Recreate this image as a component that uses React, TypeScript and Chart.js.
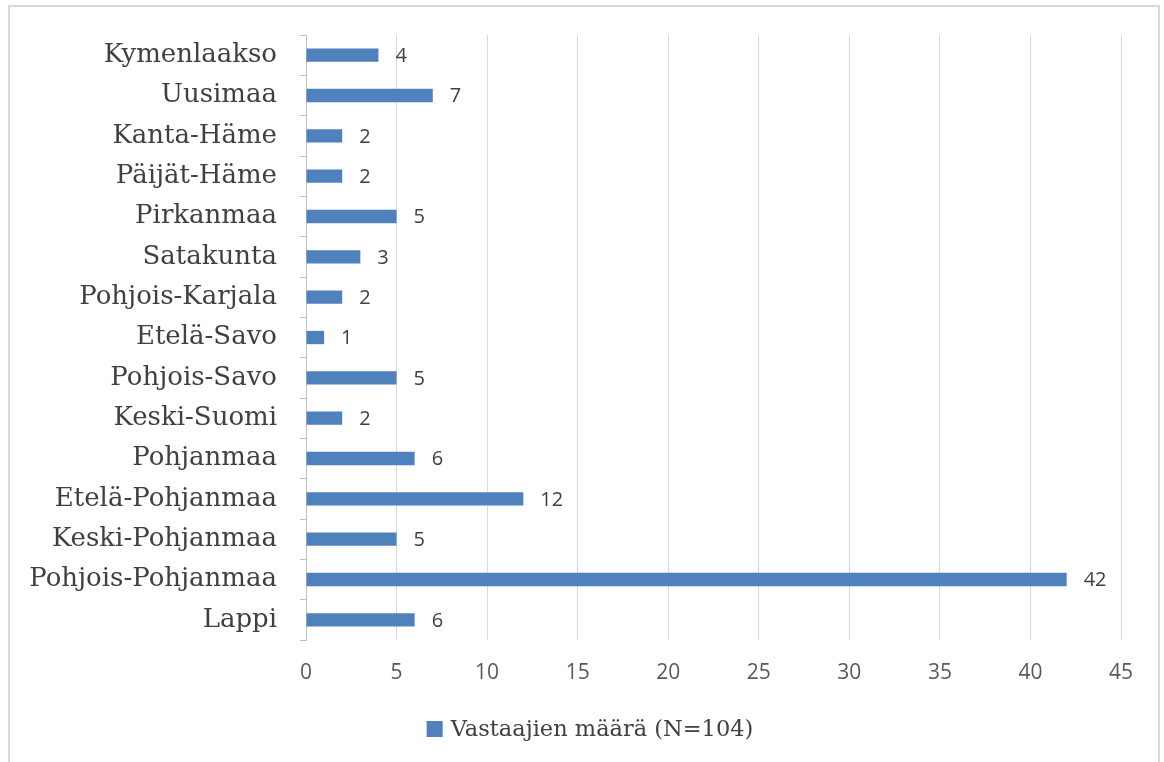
import React, { useEffect, useRef } from "react";
import { Chart, registerables } from "chart.js";

Chart.register(...registerables);

const categories = [
  "Kymenlaakso",
  "Uusimaa",
  "Kanta-Häme",
  "Päijät-Häme",
  "Pirkanmaa",
  "Satakunta",
  "Pohjois-Karjala",
  "Etelä-Savo",
  "Pohjois-Savo",
  "Keski-Suomi",
  "Pohjanmaa",
  "Etelä-Pohjanmaa",
  "Keski-Pohjanmaa",
  "Pohjois-Pohjanmaa",
  "Lappi",
];
const values = [4, 7, 2, 2, 5, 3, 2, 1, 5, 2, 6, 12, 5, 42, 6];
const seriesLabel = "Vastaajien määrä (N=104)";
const xMin = 0;
const xMax = 45;
const xStep = 5;

const SERIF = "'DejaVu Serif', 'Liberation Serif', serif";
const SANS = "'Open Sans', 'Liberation Sans', sans-serif";
const BAR_COLOR = "#4F81BD";

const dataLabelPlugin = {
  id: "dataLabels",
  afterDatasetsDraw(chart: any) {
    const { ctx } = chart;
    const meta = chart.getDatasetMeta(0);
    ctx.save();
    ctx.font = `20px ${SANS}`;
    ctx.fillStyle = "#404040";
    ctx.textAlign = "left";
    ctx.textBaseline = "middle";
    meta.data.forEach((bar: any, i: number) => {
      const v = chart.data.datasets[0].data[i];
      ctx.fillText(String(v), bar.x + 17, bar.y + 1);
    });
    ctx.restore();
  },
};

const customLegendPlugin = {
  id: "customLegend",
  afterDraw(chart: any) {
    const { ctx } = chart;
    const ds = chart.data.datasets[0];
    ctx.save();
    ctx.font = `22.5px ${SERIF}`;
    const text = ds.label;
    const tw = ctx.measureText(text).width;
    const box = 16;
    const gap = 8;
    const total = box + gap + tw;
    const cx = 590;
    const cy = 729;
    const x0 = cx - total / 2;
    ctx.fillStyle = ds.backgroundColor;
    ctx.fillRect(x0, cy - box / 2, box, box);
    ctx.fillStyle = "#404040";
    ctx.textAlign = "left";
    ctx.textBaseline = "middle";
    ctx.fillText(text, x0 + box + gap, cy + 1);
    ctx.restore();
  },
};

export default function App() {
  const ref = useRef<HTMLCanvasElement | null>(null);
  useEffect(() => {
    if (!ref.current) return;
    const chart = new Chart(ref.current, {
      type: "bar",
      data: {
        labels: categories,
        datasets: [
          {
            label: seriesLabel,
            data: values,
            backgroundColor: BAR_COLOR,
            borderColor: BAR_COLOR,
            borderWidth: 0,
            categoryPercentage: 1,
            barPercentage: 0.33,
          },
        ],
      },
      options: {
        indexAxis: "y",
        animation: false,
        responsive: false,
        maintainAspectRatio: false,
        layout: { padding: { left: 0, right: 43, top: 35, bottom: 72 } },
        scales: {
          x: {
            min: xMin,
            max: xMax,
            ticks: {
              stepSize: xStep,
              color: "#595959",
              font: { family: SANS, size: 21 },
              padding: 20,
            },
            grid: { color: "#d9d9d9", drawTicks: false, lineWidth: 1 },
            border: { display: false },
            afterFit(scale: any) {
              scale.height = 50;
            },
          },
          y: {
            ticks: {
              color: "#404040",
              font: { family: SERIF, size: 26 },
              padding: 23,
              autoSkip: false,
            },
            grid: {
              offset: true,
              drawOnChartArea: false,
              drawTicks: true,
              tickLength: 6,
              color: "#bfbfbf",
            },
            border: { display: true, color: "#bfbfbf" },
            afterFit(scale: any) {
              scale.width = 306;
              scale.paddingTop = 0;
              scale.paddingBottom = 0;
            },
          },
        },
        plugins: {
          legend: { display: false },
          tooltip: { enabled: false },
        },
      },
      plugins: [dataLabelPlugin, customLegendPlugin],
    });
    return () => chart.destroy();
  }, []);

  return (
    <div style={{ position: "absolute", left: 0, top: 0, width: 1164, height: 762, background: "#fff", overflow: "hidden" }}>
      <div
        style={{
          position: "absolute",
          left: 8,
          top: 5,
          width: 1152,
          height: 770,
          border: "2px solid #d9d9d9",
          boxSizing: "border-box",
        }}
      />
      <canvas ref={ref} width={1164} height={762} style={{ position: "absolute", left: 0, top: 0 }} />
    </div>
  );
}
